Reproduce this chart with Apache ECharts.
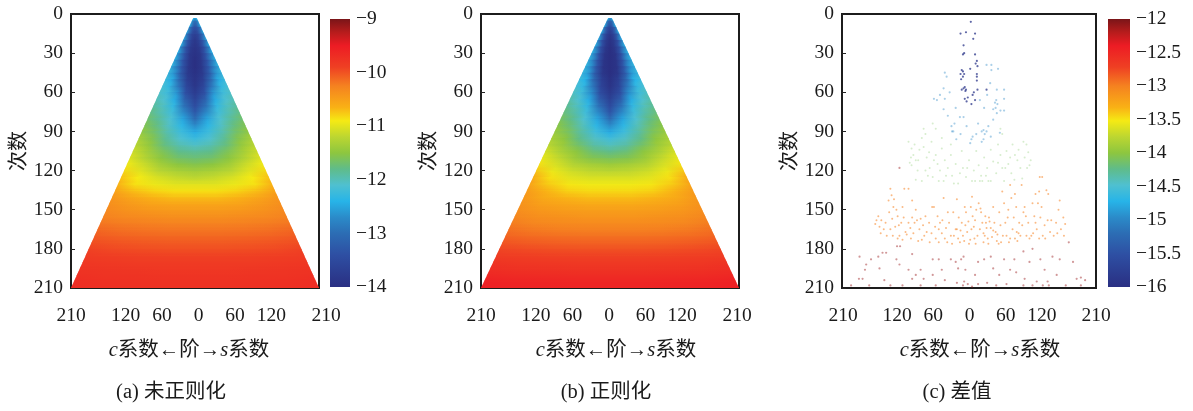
<!DOCTYPE html>
<html><head><meta charset="utf-8">
<style>html,body{margin:0;padding:0;background:#fff}#c{width:1193px;height:411px;filter:blur(0.55px)}</style>
<script src="https://cdn.jsdelivr.net/npm/echarts@6/dist/echarts.min.js"></script>
</head><body><div id="c"></div>
<script>
const orderTicks = [-210,-120,-60,0,60,120,210];
const degreeMax = 210;
const orderFractions = [0,0.25,0.5,0.75,1];
const bandDegrees = [3,5,10,15,20,25,30,35,40,45,50,55,60,65,70,75,80,85,90,95,100,105,110,115,120,125,130,135,140,145,150,155,160,165,170,175,180,185,190,195,200,205,210];
const fieldA = [
[-12.6,-12.5,-12.4,-12.3,-12.2],[-13.0,-12.9,-12.7,-12.5,-12.3],[-13.4,-13.3,-13.05,-12.75,-12.4],[-13.7,-13.6,-13.25,-12.85,-12.45],
[-13.85,-13.7,-13.35,-12.85,-12.45],[-13.9,-13.8,-13.45,-12.9,-12.4],[-13.95,-13.85,-13.4,-12.85,-12.4],[-14,-13.85,-13.4,-12.8,-12.35],
[-14,-13.85,-13.35,-12.75,-12.3],[-13.95,-13.8,-13.25,-12.6,-12.25],[-13.9,-13.7,-13.05,-12.45,-12.2],[-13.85,-13.55,-12.85,-12.3,-12.1],
[-13.75,-13.4,-12.6,-12.2,-12.05],[-13.6,-13.15,-12.45,-12.1,-11.95],[-13.45,-12.95,-12.3,-12.02,-11.85],[-13.25,-12.7,-12.2,-11.95,-11.75],
[-13,-12.5,-12.1,-11.85,-11.65],[-12.7,-12.35,-12.05,-11.75,-11.55],[-12.45,-12.22,-11.95,-11.65,-11.45],[-12.25,-12.1,-11.85,-11.55,-11.3],
[-12.05,-11.95,-11.75,-11.45,-11.2],[-11.85,-11.8,-11.6,-11.35,-11.1],[-11.7,-11.65,-11.5,-11.25,-11],[-11.55,-11.5,-11.35,-11.1,-10.9],
[-11.35,-11.3,-11.2,-11,-10.8],[-11.2,-11.15,-11.05,-10.9,-10.7],[-11,-11,-10.95,-10.85,-10.6],[-10.85,-10.85,-10.8,-10.7,-10.5],
[-10.7,-10.7,-10.65,-10.55,-10.4],[-10.55,-10.55,-10.52,-10.45,-10.35],[-10.45,-10.45,-10.42,-10.38,-10.3],[-10.35,-10.35,-10.33,-10.3,-10.25],
[-10.25,-10.25,-10.24,-10.22,-10.18],[-10.18,-10.18,-10.17,-10.15,-10.1],[-10.1,-10.1,-10.09,-10.07,-10.03],[-10.03,-10.03,-10.02,-10,-9.97],
[-9.97,-9.97,-9.96,-9.94,-9.9],[-9.9,-9.9,-9.89,-9.87,-9.84],[-9.85,-9.85,-9.84,-9.82,-9.8],[-9.8,-9.8,-9.79,-9.78,-9.75],
[-9.77,-9.77,-9.76,-9.75,-9.72],[-9.74,-9.74,-9.73,-9.72,-9.69]];
const fieldB = [
[-12.7,-12.6,-12.5,-12.35,-12.25],[-13.2,-13.1,-12.85,-12.55,-12.3],[-13.6,-13.45,-13.15,-12.75,-12.35],[-13.85,-13.7,-13.35,-12.85,-12.4],
[-13.95,-13.8,-13.45,-12.85,-12.4],[-14,-13.85,-13.45,-12.8,-12.35],[-14,-13.9,-13.45,-12.75,-12.35],[-14,-13.9,-13.4,-12.7,-12.3],
[-14,-13.9,-13.35,-12.65,-12.3],[-14,-13.85,-13.25,-12.55,-12.25],[-13.95,-13.7,-13.05,-12.4,-12.2],[-13.9,-13.6,-12.85,-12.3,-12.1],
[-13.8,-13.45,-12.65,-12.2,-12],[-13.65,-13.2,-12.45,-12.1,-11.9],[-13.5,-12.95,-12.3,-12,-11.8],[-13.3,-12.7,-12.2,-11.9,-11.7],
[-13,-12.5,-12.1,-11.8,-11.6],[-12.7,-12.35,-12,-11.7,-11.5],[-12.45,-12.2,-11.9,-11.6,-11.4],[-12.2,-12.05,-11.8,-11.5,-11.3],
[-12,-11.9,-11.65,-11.4,-11.2],[-11.8,-11.72,-11.5,-11.3,-11.05],[-11.6,-11.55,-11.4,-11.15,-10.95],[-11.4,-11.35,-11.25,-11.05,-10.85],
[-11.2,-11.18,-11.1,-10.95,-10.7],[-11.05,-11.05,-11,-10.85,-10.55],[-10.92,-10.92,-10.88,-10.75,-10.5],[-10.82,-10.82,-10.78,-10.65,-10.45],
[-10.7,-10.7,-10.66,-10.58,-10.42],[-10.58,-10.58,-10.55,-10.5,-10.38],[-10.48,-10.48,-10.46,-10.42,-10.34],[-10.4,-10.4,-10.38,-10.35,-10.28],
[-10.32,-10.32,-10.31,-10.28,-10.22],[-10.24,-10.24,-10.23,-10.2,-10.15],[-10.15,-10.15,-10.14,-10.12,-10.08],[-10.07,-10.07,-10.06,-10.04,-10],
[-9.98,-9.98,-9.97,-9.95,-9.92],[-9.9,-9.9,-9.89,-9.87,-9.84],[-9.82,-9.82,-9.81,-9.8,-9.77],[-9.75,-9.75,-9.74,-9.73,-9.7],
[-9.68,-9.68,-9.67,-9.66,-9.62],[-9.6,-9.6,-9.59,-9.58,-9.54]];
const colourPositions = [0,0.12,0.2,0.26,0.32,0.38,0.44,0.5,0.56,0.62,0.67,0.75,0.82,0.9,0.95,1];
const colourValues = ['#2a2f82','#2e4fa3','#2c6db4','#2b8bc9','#27b4e8','#4fc0d0','#5fbc8a','#8dc63f','#bcd631','#f5ea14','#f9b115','#f58220','#ef4023','#ed1c24','#b71c1c','#7a1518'];
const dotsViolet = [[3,6],[-5,14],[-14,15],[10,15],[7,19],[-9,24],[-8,30],[-10,31],[10,31],[13,36],[14,40],[2,42],[-12,43],[-14,46],[-10,48],[13,48],[13,51],[-9,57],[-5,58],[-12,58],[14,58],[6,62],[-7,65],[-4,67],[4,69],[29,58],[-10,44],[-8,46],[-6,59],[-7,56],[8,60],[10,66],[-2,64],[11,38],[13,46],[-13,50]];
const dotsBlue = [[-40,45],[-37,48],[-42,57],[-58,65],[-40,65],[-53,66],[37,39],[37,43],[43,68],[47,69],[40,73],[46,76],[-29,86],[-26,90],[-21,96],[-15,79],[-9,79],[24,89],[29,90],[21,90],[4,96],[2,99],[21,98],[24,96],[32,86],[46,58],[58,58],[58,65],[40,81],[51,91],[-42,73],[29,39],[35,53],[18,66],[-28,90],[-24,84],[26,92],[45,66],[44,72],[6,94],[-48,62],[-32,60],[-22,72],[-35,78],[25,72],[30,62],[52,74],[36,94],[15,84],[-4,86],[-14,92],[48,42],[58,74],[12,92]];
const dotsGreen = [[-75,88],[-72,92],[-78,95],[-100,98],[-95,103],[-96,110],[-92,108],[-95,116],[-88,112],[-85,120],[-82,104],[-75,102],[-70,110],[-65,118],[-62,98],[-60,125],[-55,108],[-52,115],[-48,120],[-45,103],[-42,128],[-40,112],[-35,118],[-30,108],[-28,124],[-22,115],[-18,130],[-12,105],[-10,118],[-5,125],[0,112],[5,128],[8,120],[12,105],[16,116],[20,124],[22,128],[25,110],[30,118],[32,128],[36,104],[40,113],[45,122],[48,100],[52,108],[55,118],[58,128],[62,105],[65,115],[70,122],[72,100],[76,108],[80,112],[85,118],[90,98],[95,100],[100,116],[102,112],[98,106],[52,88],[55,92],[-55,88],[-45,95],[-30,100],[-68,124],[-78,128],[-88,127],[75,127],[88,126],[-98,114],[-90,100],[-84,112],[-72,120],[-66,106],[-58,112],[-50,128],[-38,124],[-25,130],[-15,122],[-3,118],[10,128],[18,128],[28,124],[36,128],[48,114],[60,118],[68,110],[82,104],[92,110],[96,118],[-60,84]];
const dotsOrange = [[-130,134],[-107,134],[-100,134],[-133,143],[-128,139],[-94,143],[-125,148],[-150,155],[-155,161],[-153,158],[-148,163],[-141,165],[-145,158],[-136,170],[-130,165],[-127,157],[-132,152],[-122,163],[-118,155],[-115,170],[-108,156],[-112,160],[-105,167],[-103,169],[-97,164],[-94,156],[-90,160],[-96,172],[-86,158],[-82,165],[-78,173],[-76,162],[-70,167],[-72,155],[-61,148],[-58,148],[-52,155],[-48,160],[-45,168],[-40,172],[-36,175],[-42,141],[-33,160],[-30,170],[-26,152],[-22,165],[-20,142],[-20,165],[-17,156],[-15,175],[-12,160],[-10,170],[-7,148],[-5,152],[-1,159],[-3,167],[2,173],[5,140],[6,155],[8,163],[11,176],[14,170],[16,145],[19,149],[20,152],[22,160],[24,175],[26,170],[29,164],[31,172],[33,156],[34,159],[36,164],[38,171],[40,148],[42,160],[44,167],[49,176],[50,152],[55,136],[58,145],[60,160],[62,170],[65,150],[68,131],[70,141],[74,156],[76,138],[78,148],[79,167],[80,174],[83,160],[87,131],[90,152],[92,148],[95,170],[98,160],[100,172],[103,170],[105,145],[108,155],[110,138],[112,165],[114,145],[116,136],[117,125],[121,125],[118,156],[120,148],[122,170],[125,162],[128,135],[131,138],[134,167],[136,158],[140,170],[148,150],[150,143],[152,165],[156,156],[159,161],[157,170],[-118,172],[-124,142],[-110,148],[-88,150],[-65,175],[-55,172],[-50,175],[-28,176],[-18,172],[4,165],[9,172],[18,165],[27,155],[47,169],[53,175],[68,172],[72,165],[85,170],
[-146,168],[-138,160],[-126,170],[-120,150],[-116,162],[-110,173],[-100,160],[-92,168],[-84,174],[-80,157],[-74,170],[-66,160],[-62,168],[-56,163],[-50,165],[-44,158],[-38,164],[-35,152],[-25,170],[-14,166],[-8,174],[-6,162],[0,176],[3,148],[10,158],[12,150],[24,168],[28,160],[32,176],[40,166],[46,174],[52,162],[56,170],[64,156],[66,175],[76,172],[82,168],[88,162],[94,155],[106,168],[110,160],[116,172],[126,172],[130,158],[144,160],[146,168]];
const dotsBrown = [[-181,186],[-170,192],[-172,196],[-182,203],[-176,203],[-162,188],[-150,186],[-143,183],[-137,183],[-148,195],[-140,204],[-119,178],[-114,178],[-120,188],[-115,192],[-94,184],[-94,203],[-88,200],[-100,196],[-80,196],[-75,203],[-60,188],[-50,188],[-45,196],[-60,200],[-40,204],[-30,188],[-22,190],[-18,195],[-13,188],[-9,186],[-8,205],[-6,196],[-2,207],[5,209],[10,200],[15,190],[25,188],[30,206],[36,186],[40,195],[50,200],[58,188],[62,207],[68,196],[78,198],[75,188],[90,182],[92,203],[100,190],[105,180],[118,188],[122,208],[125,196],[132,208],[138,186],[145,200],[150,188],[160,208],[165,175],[172,190],[178,203],[185,202],[192,204],[185,208],[-195,208],[-165,208],[-130,208],[-110,208],[-80,208],[-55,208],[-20,206],[-10,208],[15,207],[45,208],[90,208],[105,208],[112,205],[130,205],[-115,118]];
const dotLevels = {violet:-15.9,blue:-15,green:-14.1,orange:-13,brown:-12.1};
const barTicksA = [-14,-13,-12,-11,-10,-9];
const barTicksC = [-16,-15.5,-15,-14.5,-14,-13.5,-13,-12.5,-12];

const SERIF = '"Liberation Serif","Noto Sans CJK SC",serif';
const colourAt = f => {
  f = Math.max(0, Math.min(1, f));
  for (let i = 1; i < colourPositions.length; i++) {
    if (f <= colourPositions[i]) {
      const t = (f - colourPositions[i-1]) / (colourPositions[i] - colourPositions[i-1]);
      return echarts.color.lerp(t, [colourValues[i-1], colourValues[i]]);
    }
  }
  return colourValues[colourValues.length-1];
};
const panels = [
 {plot:[71,319], labels:[71,326], bar:[330,350], nameX:189, capX:171, cap:'(a) 未正则化', field:fieldA, range:[-14,-9], ticks:barTicksA},
 {plot:[481,739], labels:[481,737], nameX:616, capX:606, cap:'(b) 正则化', field:fieldB, range:[-14,-9]},
 {plot:[842,1096], labels:[843,1096], bar:[1108,1130], nameX:980, capX:957, cap:'(c) 差值', dots:true, range:[-16,-12], ticks:barTicksC}
];
const grid=[], xAxis=[], yAxis=[], series=[], title=[];
const W=1193, TOP=14, BOTTOM=288, FEATHER=5;
const fmt = v => String(v).replace('-', '\u2212');
const font = {fontFamily:SERIF, fontSize:19.5, color:'#1a1a1a'};
panels.forEach(p => {
  const g = grid.length;
  const gradientOf = row => {
    const stops=[], n=orderFractions.length;
    const col = v => colourAt((v-p.range[0])/(p.range[1]-p.range[0]));
    for(let k=n-1;k>=0;k--) stops.push({offset:(1-orderFractions[k])/2, color:col(row[k])});
    for(let k=1;k<n;k++) stops.push({offset:(1+orderFractions[k])/2, color:col(row[k])});
    return new echarts.graphic.LinearGradient(0,0,1,0,stops);
  };
  grid.push({left:p.plot[0], width:p.plot[1]-p.plot[0], top:TOP, height:BOTTOM-TOP, show:true, borderColor:'#1c1c1c', borderWidth:2, backgroundColor:'#fff'});
  xAxis.push({gridIndex:g, type:'value', min:-degreeMax, max:degreeMax, axisLine:{show:false}, axisTick:{show:false}, axisLabel:{show:false}, splitLine:{show:false}});
  yAxis.push({gridIndex:g, type:'value', inverse:true, min:0, max:degreeMax, interval:30,
    name:'次数', nameLocation:'middle', nameGap:41, nameTextStyle:{fontFamily:SERIF, fontSize:20, color:'#1a1a1a'},
    axisLine:{show:true, onZero:false, lineStyle:{color:'#1c1c1c', width:2}}, axisTick:{inside:true, length:4, lineStyle:{color:'#222'}}, axisLabel:{...font, margin:8}, splitLine:{show:false}});
  if (p.field) {
    series.push({type:'custom', xAxisIndex:g, yAxisIndex:g, coordinateSystem:'cartesian2d', silent:true,
      data:p.field.map((r,i)=>[i]), encode:{x:[],y:[]},
      renderItem:(params, api) => {
        const i = api.value(0), d0 = bandDegrees[i], d1 = bandDegrees[i+1], row = p.field[i], next = p.field[i+1] || row;
        const quad = (a,b,fill,opacity) => ({type:'polygon', shape:{points:[api.coord([-a,a]),api.coord([a,a]),api.coord([b,b]),api.coord([-b,b])]}, style:{fill,opacity}});
        const children=[quad(d0, i<p.field.length-1 ? d1+0.8 : d1, gradientOf(row), 1)];
        const nextFill = gradientOf(next);
        for(let k=1;k<FEATHER;k++){
          children.push(quad(d0+(d1-d0)*k/FEATHER, d0+(d1-d0)*(k+1)/FEATHER, nextFill, k/FEATHER));
        }
        return {type:'group', children};
      }, z:2});
  }
  if (p.dots) {
    const groups=[[dotsViolet,dotLevels.violet,0.75,2.2],[dotsBlue,dotLevels.blue,0.4,2.2],[dotsGreen,dotLevels.green,0.3,2],[dotsOrange,dotLevels.orange,0.55,2],[dotsBrown,dotLevels.brown,0.45,2.2]];
    groups.forEach(([pts,lv,op,sz])=>{
      series.push({type:'scatter', xAxisIndex:g, yAxisIndex:g, silent:true, symbolSize:sz, data:pts.map(q=>[q[0],q[1],lv]),
        itemStyle:{color:colourAt((lv-p.range[0])/(p.range[1]-p.range[0])), opacity:op}, z:2});
    });
  }
  const l = grid.length;
  grid.push({left:p.labels[0], width:p.labels[1]-p.labels[0], top:BOTTOM, height:1, show:false});
  xAxis.push({gridIndex:l, type:'value', min:-degreeMax, max:degreeMax, axisLine:{show:false}, axisTick:{show:false}, splitLine:{show:false},
    axisLabel:{...font, margin:17, customValues:orderTicks, formatter:v=>String(Math.abs(v)), hideOverlap:false}});
  yAxis.push({gridIndex:l, type:'value', show:false, min:0, max:1, splitLine:{show:false}});
  if (p.bar) {
    const b = grid.length;
    grid.push({left:p.bar[0], width:p.bar[1]-p.bar[0], top:19, height:268, show:false});
    xAxis.push({gridIndex:b, type:'value', show:false, min:0, max:1, splitLine:{show:false}});
    yAxis.push({gridIndex:b, type:'value', position:'right', min:p.range[0], max:p.range[1], axisLine:{show:false}, axisTick:{show:false}, splitLine:{show:false},
      axisLabel:{...font, margin:6, customValues:p.ticks, formatter:fmt}});
    series.push({type:'custom', xAxisIndex:b, yAxisIndex:b, silent:true, data:[[0,p.range[0],1,p.range[1]]], encode:{x:[0,2],y:[1,3]},
      renderItem:(params, api) => {
        const a=api.coord([api.value(0),api.value(3)]), c=api.coord([api.value(2),api.value(1)]);
        return {type:'rect', shape:{x:a[0],y:a[1],width:c[0]-a[0],height:c[1]-a[1]},
          style:{fill:new echarts.graphic.LinearGradient(0,1,0,0,colourPositions.map((o,i)=>({offset:o,color:colourValues[i]})))}};
      }});
  }
  title.push({text:'{i|c}系数←阶→{i|s}系数', left:p.nameX, top:340, textAlign:'center', padding:0,
    textStyle:{fontFamily:SERIF, fontSize:20.5, fontWeight:'normal', color:'#1a1a1a', rich:{i:{fontFamily:SERIF, fontStyle:'italic', fontSize:20.5, color:'#1a1a1a'}}}});
  title.push({text:p.cap, left:p.capX, top:382, textAlign:'center', padding:0,
    textStyle:{fontFamily:SERIF, fontSize:20.5, fontWeight:'normal', color:'#1a1a1a'}});
});
const chart = echarts.init(document.getElementById('c'), null, {width:W, height:411});
chart.setOption({animation:false, backgroundColor:'#fff', title, grid, xAxis, yAxis, series});
</script></body></html>
